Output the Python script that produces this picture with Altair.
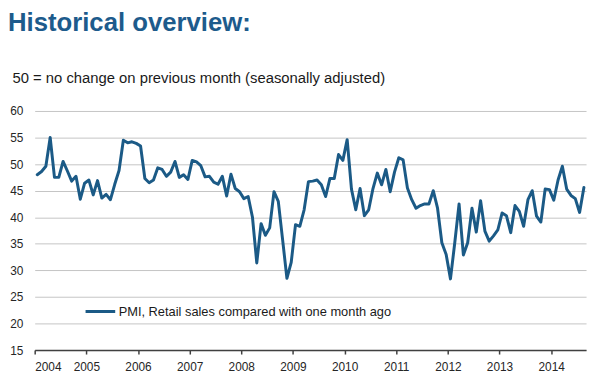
import altair as alt
import pandas as pd

# ---- data ----
YEARS = list(range(2004, 2015))
Y_TICKS = [15, 20, 25, 30, 35, 40, 45, 50, 55, 60]
SERIES = "PMI, Retail sales compared with one month ago"
TITLE = "Historical overview:"
SUBTITLE = "50 = no change on previous month (seasonally adjusted)"

# monthly values, Jan 2004 onwards
VALUES = [
    48.0, 48.6, 49.6, 55.0, 47.5, 47.5, 50.5, 48.7, 46.8, 47.7, 43.4, 46.4,   # 2004
    47.0, 44.2, 46.9, 43.6, 44.3, 43.3, 46.2, 48.8, 54.5, 54.0, 54.2, 53.9,   # 2005
    53.4, 47.3, 46.5, 47.0, 49.3, 49.0, 47.7, 48.5, 50.5, 47.5, 48.0, 47.1,   # 2006
    50.7, 50.4, 49.7, 47.6, 47.7, 46.6, 46.2, 47.7, 44.0, 48.1, 45.4, 44.8,   # 2007
    43.5, 43.9, 40.0, 31.4, 38.8, 36.6, 38.0, 44.8, 43.0, 35.8, 28.5, 31.5,   # 2008
    38.6, 38.3, 41.4, 46.7, 46.8, 47.0, 46.1, 43.9, 47.3, 47.3, 51.8, 50.7,   # 2009
    54.6, 45.3, 41.4, 45.4, 40.3, 41.4, 45.4, 48.3, 46.1, 49.0, 44.8, 48.5,   # 2010
    51.2, 50.8, 45.5, 43.3, 41.7, 42.2, 42.5, 42.5, 45.0, 41.7, 35.2, 33.0,   # 2011
    28.4, 35.2, 42.5, 32.9, 35.2, 41.7, 37.2, 43.1, 37.4, 35.5, 36.5, 37.6,   # 2012
    40.8, 40.3, 37.1, 42.2, 41.1, 38.3, 43.3, 45.0, 40.2, 39.1, 45.3, 45.2,   # 2013
    43.2, 47.0, 49.6, 45.3, 44.1, 43.5, 40.9, 45.6,                           # 2014
]

START_YEAR = 2004
X_END = 2014.675

df = pd.DataFrame({
    "t": [START_YEAR + (i + 0.6) / 12 for i in range(len(VALUES))],
    "value": VALUES,
    "series": [SERIES] * len(VALUES),
})

FONT = "Liberation Sans"
LINE_COLOR = "#1b5a86"
TEXT_COLOR = "#262626"

chart = alt.Chart(df).mark_line(
    strokeWidth=3, strokeJoin="round", strokeCap="round"
).encode(
    x=alt.X(
        "t:Q",
        scale=alt.Scale(domain=[START_YEAR, X_END], nice=False, zero=False),
        axis=alt.Axis(
            values=YEARS, format="d", title=None, grid=False,
            domainColor="#404040", domainWidth=1.5,
            tickColor="#404040", tickWidth=1.5, tickSize=4,
            labelFontSize=12, labelColor=TEXT_COLOR, labelPadding=8,
            labelFont=FONT,
        ),
    ),
    y=alt.Y(
        "value:Q",
        scale=alt.Scale(domain=[15, 60], nice=False, zero=False),
        axis=alt.Axis(
            values=Y_TICKS, title=SUBTITLE, domain=False, ticks=False,
            gridColor="#c4c4c4", gridWidth=1,
            labelFontSize=12, labelColor=TEXT_COLOR, labelPadding=12,
            labelFont=FONT,
            titleAngle=0, titleAlign="left", titleBaseline="alphabetic",
            titleX=-23, titleY=-29, titleFontSize=15, titleFontWeight="normal",
            titleColor="#1a1a1a", titleFont=FONT,
        ),
    ),
    color=alt.Color(
        "series:N",
        scale=alt.Scale(range=[LINE_COLOR]),
        legend=alt.Legend(
            title=None, orient="none", legendX=50, legendY=195,
            symbolType="stroke", symbolSize=900, symbolStrokeWidth=3,
            clipHeight=16, padding=0, labelOffset=2,
            labelFontSize=13, labelColor="#1a1a1a", labelFont=FONT,
            labelLimit=400,
        ),
    ),
).properties(
    width=558,
    height=242,
    title=alt.Title(
        TITLE, anchor="start", frame="group", dx=-27, offset=35,
        fontSize=26, fontWeight="bold", color="#1d5b8c", font=FONT,
    ),
    padding={"left": 27, "top": 102, "right": 4, "bottom": 22},
    autosize="none",
).configure_view(stroke=None)

chart.save("out.html", embed_options={"renderer": "svg", "actions": False})
